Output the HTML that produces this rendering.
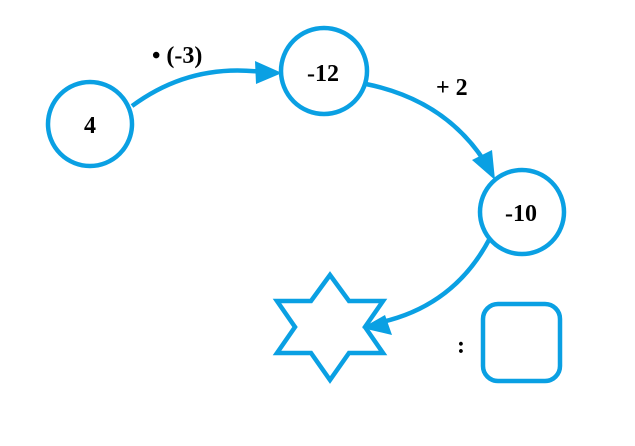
<!DOCTYPE html>
<html><head><style>
html,body{margin:0;padding:0;background:#fff;}
svg{display:block;}
text{font-family:"Liberation Serif",serif;font-weight:bold;font-size:24px;fill:#000;}
</style></head><body>
<svg width="635" height="446" viewBox="0 0 635 446">
<g fill="none" stroke="#0aa0e3" stroke-width="4.5">
<circle cx="90" cy="124" r="42"/>
<circle cx="324" cy="71" r="43"/>
<circle cx="522" cy="212" r="42"/>
<path d="M132,106 Q190,63 262,72"/>
<path d="M366,84 Q445,100 485,162"/>
<path d="M490,238 Q455,305 382,322"/>
<polygon points="330,275 349,301 383,301 365,327 383,353 349,353 330,380 311,353 277,353 295,327 277,301 311,301" stroke-linejoin="miter"/>
<rect x="483" y="304" width="77" height="77" rx="15"/>
</g>
<g fill="#0aa0e3">
<polygon points="282,73 255,61 256,84"/>
<polygon points="495,180 472,160 492,150"/>
<polygon points="362,328 385,315 392,335"/>
</g>
<text x="90" y="133" text-anchor="middle">4</text>
<text x="323" y="81" text-anchor="middle">-12</text>
<text x="521" y="221" text-anchor="middle">-10</text>
<text x="152" y="63">• (-3)</text>
<text x="436" y="95">+ 2</text>
<text x="457" y="353">:</text>
</svg>
</body></html>
